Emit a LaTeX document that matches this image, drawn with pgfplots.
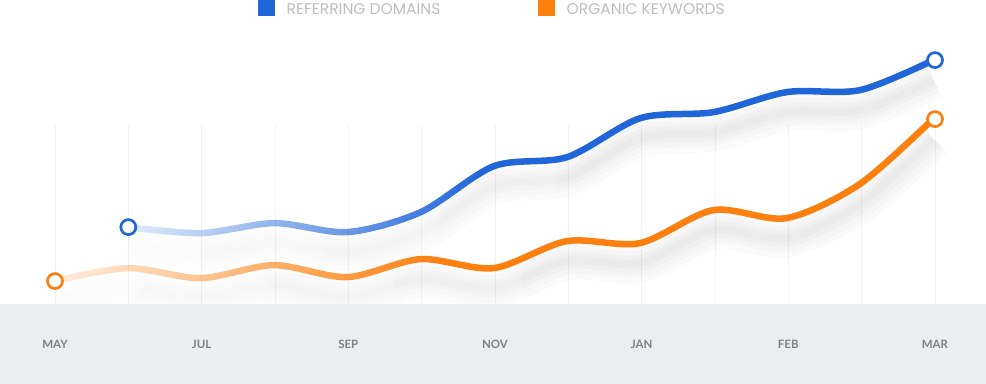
\documentclass[border=0pt]{standalone}
\usepackage{fontspec}
\setmainfont{Lato}
\newfontfamily\legfont{Poppins}
\usepackage{pgfplots}
\pgfplotsset{compat=1.18}
\usepackage{pgfplotstable}
\usetikzlibrary{fadings}
\definecolor{rdblue}{RGB}{32,102,216}
\definecolor{okorange}{RGB}{253,127,14}
\definecolor{bandcol}{RGB}{234,238,241}
\definecolor{gridcol}{RGB}{243,243,243}
\definecolor{ticktext}{RGB}{128,128,128}
\definecolor{legtext}{RGB}{190,190,190}

\pgfdeclarehorizontalshading{lineshade}{100bp}{color(0bp)=(black!88); color(25bp)=(black!88); color(47bp)=(black!0); color(100bp)=(black!0)}
\pgfdeclarefading{linefade}{\pgfuseshading{lineshade}}
\pgfdeclarehorizontalshading{shadowshade}{100bp}{color(0bp)=(black!85); color(25bp)=(black!85); color(55bp)=(black!0); color(100bp)=(black!0)}
\pgfdeclarefading{shadowfade}{\pgfuseshading{shadowshade}}

\pgfplotstableread{
x v
0 22
1 35
2 25
3 38
4 26
5 44
6 35
7 62
8 60
9 93
10 85
11 119
12 184
}\orangedata

\pgfplotstableread{
x v
1 76
2 70
3 80
4 71
5 91
6 137
7 146
8 185
9 191
10 211
11 213
12 243
}\bluedata

\pgfplotsset{shadow/.style={forget plot, smooth, draw=black, draw opacity=0.02, line width=#1, path fading=shadowfade}}

\begin{document}
\begin{tikzpicture}
\begin{axis}[
  scale only axis, width=986pt, height=383pt,
  xmin=-0.75, xmax=12.6955, ymin=-80, ymax=303,
  axis on top,
  axis line style={draw=none}, major tick length=0pt,
  ytick=\empty, xtick={0,2,...,12},
  xticklabels={MAY,JUL,SEP,NOV,JAN,FEB,MAR},
  xticklabel style={anchor=base, yshift=35pt, font=\fontsize{11.5}{13}\selectfont\bfseries, text=ticktext},
  legend columns=2,
  legend image code/.code={\fill[#1, draw=none] (0pt,-6pt) rectangle (17pt,10pt);},
  legend style={at={(rel axis cs:0.2617,1)}, anchor=north west, draw=none, fill=none,
    inner sep=0pt, outer sep=0pt, nodes={inner sep=0pt, outer sep=0pt},
    font=\legfont\fontsize{15.5}{17}\selectfont, text=legtext,
    /tikz/every odd column/.append style={column sep=11.7pt},
    /tikz/every even column/.append style={column sep=98.3pt}},
  legend cell align=left,
]
\pgfplotsinvokeforeach{0,...,12}{\draw[gridcol, line width=0.8pt] (axis cs:#1,-1) -- (axis cs:#1,178);}
% soft shadows
\pgfplotsinvokeforeach{38pt,27pt,17pt,8pt}{
\addplot[shadow=#1] table[x=x, y expr=\thisrow{v}-20]{\orangedata};
\addplot[shadow=#1] table[x=x, y expr=\thisrow{v}-20]{\bluedata};
}
% band
\fill[bandcol] (axis cs:-1,-81) rectangle (axis cs:13,-1);
% lines
\addplot[forget plot, smooth, draw=okorange, line width=6.5pt, path fading=linefade] table[x=x, y=v]{\orangedata};
\addplot[forget plot, smooth, draw=rdblue, line width=6.5pt, path fading=linefade] table[x=x, y=v]{\bluedata};
% end markers
\addplot[forget plot, only marks, mark=*, mark size=7.5pt, mark indices={1,13}, mark options={fill=white, draw=okorange, line width=2.7pt}] table[x=x, y=v]{\orangedata};
\addplot[forget plot, only marks, mark=*, mark size=7.5pt, mark indices={1,12}, mark options={fill=white, draw=rdblue, line width=2.7pt}] table[x=x, y=v]{\bluedata};
% legend
\addlegendimage{fill=rdblue}
\addlegendentry{\makebox[153pt][l]{REFERRING DOMAINS}}
\addlegendimage{fill=okorange}
\addlegendentry{\makebox[153pt][l]{ORGANIC KEYWORDS}}
\end{axis}
\end{tikzpicture}
\end{document}
